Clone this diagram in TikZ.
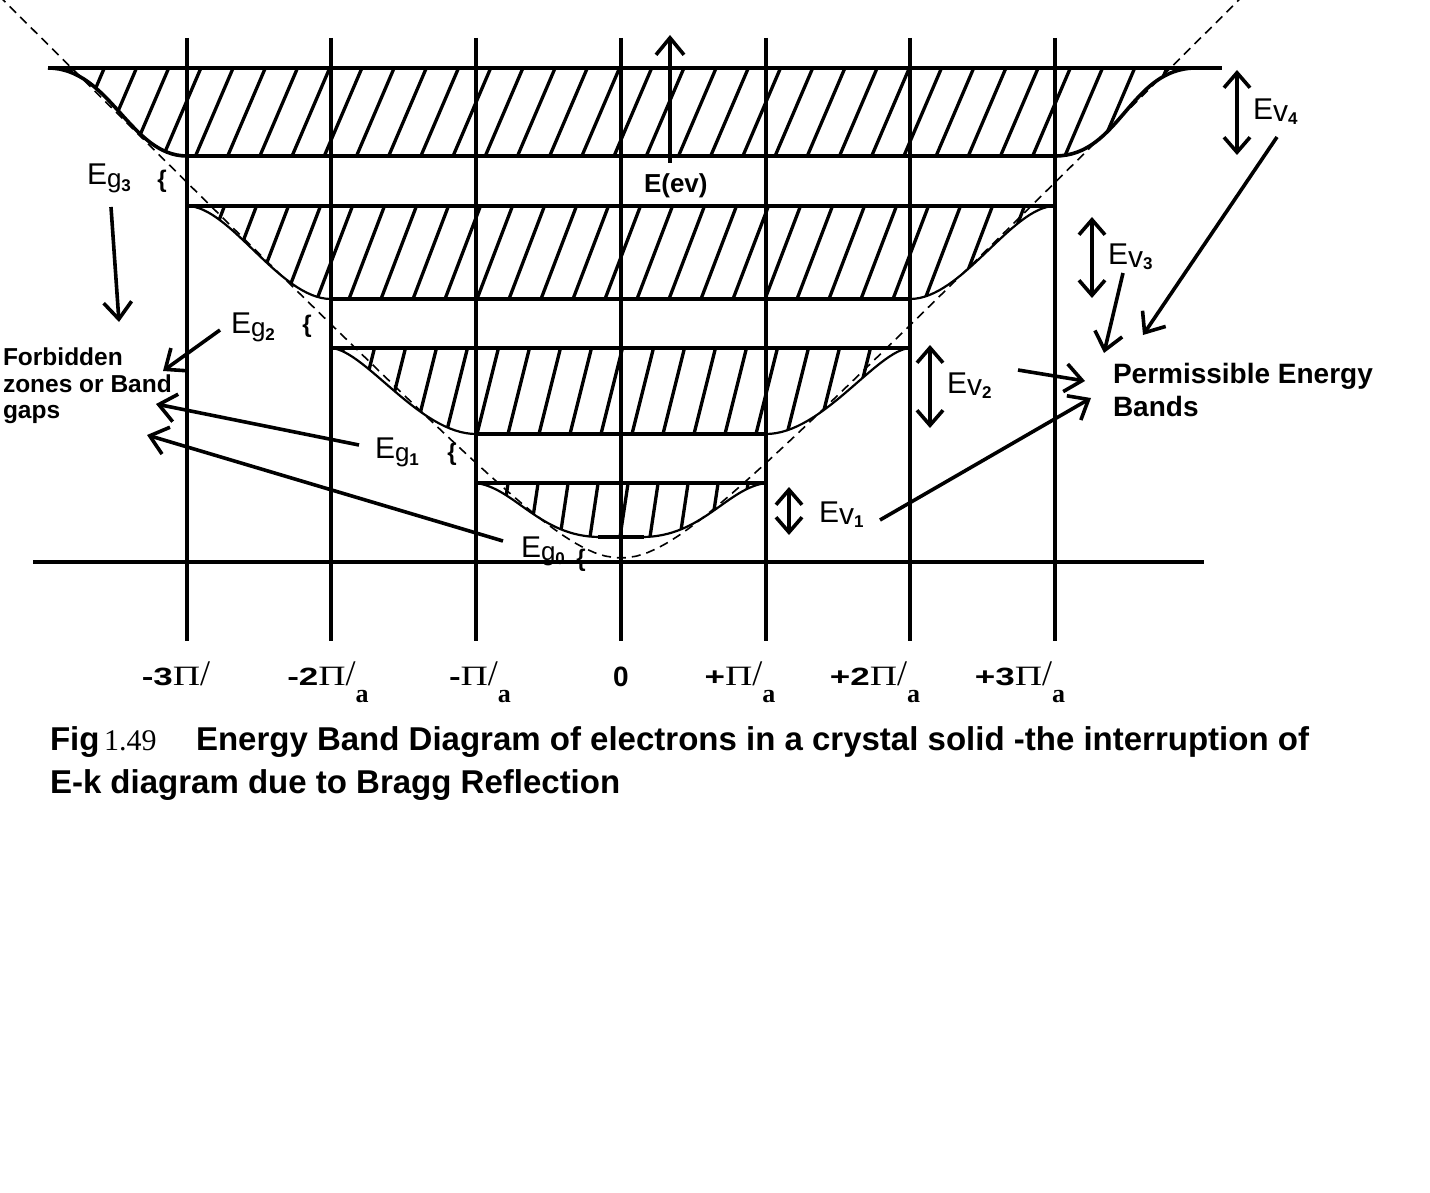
\documentclass[tikz,border=0pt]{standalone}
\usepackage{fontspec}
\setmainfont{Liberation Sans}
\newfontfamily\serf{Liberation Serif}
\usetikzlibrary{arrows.meta}
\newcommand\Egl[1]{E\raisebox{-3pt}{\fontsize{26}{26}\selectfont g\raisebox{-4pt}{\bfseries\fontsize{17}{17}\selectfont #1}}}
\newcommand\Evl[1]{E\raisebox{-2pt}{v\raisebox{-3pt}{\bfseries\fontsize{17}{17}\selectfont #1}}}
\newcommand\kpi{{\serf\fontsize{28}{28}\selectfont\scalebox{1.35}[1]{Π}}{\serf\fontsize{36}{36}\selectfont /}}
\newcommand\kl[2]{{\bfseries\fontsize{25}{25}\selectfont\scalebox{1.4}[1]{#1}}\kpi\raisebox{-17pt}{\serf\bfseries\fontsize{26}{26}\selectfont #2}}
\begin{document}
\begin{tikzpicture}[x=1pt,y=-1pt,
  every node/.style={inner sep=0pt, outer sep=0pt},
  thickline/.style={line width=3.6pt},
  hatchline/.style={line width=3.3pt},
  thincurve/.style={line width=2.2pt},
  guide/.style={line width=1.6pt, dash pattern=on 9pt off 6pt},
  arr/.style={-{Straight Barb[length=17pt,width=28pt]}, line width=3.6pt},
  darr/.style={{Straight Barb[length=15pt,width=26pt]}-{Straight Barb[length=15pt,width=26pt]}, line width=3.6pt},
  elbl/.style={font=\fontsize{30}{30}\selectfont, anchor=base west},
  brc/.style={font=\bfseries\fontsize{24}{24}\selectfont},
  side/.style={font=\bfseries\fontsize{24.5}{24.5}\selectfont, anchor=base west},
  perm/.style={font=\bfseries\fontsize{28}{28}\selectfont, anchor=base west},
  klbl/.style={anchor=base},
  captext/.style={font=\bfseries\fontsize{33}{33}\selectfont, anchor=base west}]
\useasboundingbox (0,0) rectangle (1430,1193);

% ---------- hatching ----------
\begin{scope}
\clip (48,68) -- (1196,68) .. controls (1130,68) and (1120,156) .. (1055,156) -- (187,156) .. controls (130,156) and (110,68) .. (48,68) -- cycle;
\foreach \i in {0,...,38} \draw[hatchline] ({2.2+\i*32.2-4.2},166) -- ++(46.2,-108);
\end{scope}
\begin{scope}
\clip (187,206) -- (1055,206) .. controls (1012,206) and (962,299) .. (910,299) -- (331,299) .. controls (280,299) and (230,206) .. (187,206) -- cycle;
\foreach \i in {0,...,29} \draw[hatchline] ({157+\i*32-3.8},309) -- ++(43.1,-113);
\end{scope}
\begin{scope}
\clip (331,348) -- (910,348) .. controls (877,350) and (822,434) .. (766,434) -- (476,434) .. controls (420,434) and (365,350) .. (331,348) -- cycle;
\foreach \i in {0,...,20} \draw[hatchline] ({322+\i*31-2.5},444) -- ++(26.5,-106);
\end{scope}
\begin{scope}
\clip (476,483) -- (766,483) .. controls (727,488) and (702,537) .. (642,537) -- (600,537) .. controls (540,537) and (515,488) .. (476,483) -- cycle;
\foreach \i in {0,...,11} \draw[hatchline] ({470+\i*30-1.5},547) -- ++(11.1,-74);
\end{scope}

% ---------- band outlines ----------
\draw[thickline] (48,68) -- (1222,68);
\draw[thickline] (48,68) .. controls (110,68) and (130,156) .. (187,156) -- (1055,156) .. controls (1120,156) and (1130,68) .. (1196,68);
\draw[thickline] (187,206) -- (1055,206);
\draw[thincurve] (187,206) .. controls (230,206) and (280,299) .. (331,299);
\draw[thincurve] (910,299) .. controls (962,299) and (1012,206) .. (1055,206);
\draw[thickline] (331,299) -- (910,299);
\draw[thickline] (331,348) -- (910,348);
\draw[thincurve] (331,348) .. controls (365,350) and (420,434) .. (476,434);
\draw[thincurve] (766,434) .. controls (822,434) and (877,350) .. (910,348);
\draw[thickline] (476,434) -- (766,434);
\draw[thickline] (476,483) -- (766,483);
\draw[thincurve] (476,483) .. controls (515,488) and (540,537) .. (600,537);
\draw[thincurve] (642,537) .. controls (702,537) and (727,488) .. (766,483);
\draw[thickline] (598,537) -- (644,537);

% ---------- grid ----------
\foreach \x in {187,331,476,621,766,910,1055} \draw[thickline] (\x,38) -- (\x,641);
\draw[thickline] (33,562) -- (1204,562);

% ---------- free electron curve ----------
\draw[guide] plot[domain=-6.22:6.22, samples=120] ({621+100*\x}, {621-100*sqrt(\x*\x+0.3969)});

% ---------- energy axis ----------
\coordinate (eaxb) at (670,163);
\coordinate (eaxt) at (670,35);
\draw[arr] (eaxb) -- (eaxt);
\node[font=\bfseries\fontsize{26}{26}\selectfont, anchor=base west] (eev) at (644,193) {E(ev)};

% ---------- gap labels ----------
\node[elbl] (eg3) at (87,185) {\Egl{3}};
\node[elbl] (eg2) at (231,333) {\Egl{2}};
\node[elbl] (eg1) at (375,458) {\Egl{1}};
\node[elbl] (eg0) at (521,557) {\Egl{0}};
\node[brc] (b3) at (162,181) {\{};
\node[brc] (b2) at (307,326) {\{};
\node[brc] (b1) at (452,454) {\{};
\node[brc] (b0) at (581,560) {\{};

\node[side] (fz1) at (3,365) {Forbidden};
\node[side] (fz2) at (3,392) {zones or Band};
\node[side] (fz3) at (3,418) {gaps};

\coordinate (a3s) at (111,207); \coordinate (a3e) at (119,322);
\coordinate (a2s) at (220,330); \coordinate (a2e) at (163,371);
\coordinate (a1s) at (359,445); \coordinate (a1e) at (156,404);
\coordinate (a0s) at (503,541); \coordinate (a0e) at (147,435);
\draw[arr] (a3s) -- (a3e);
\draw[arr] (a2s) -- (a2e);
\draw[arr] (a1s) -- (a1e);
\draw[arr] (a0s) -- (a0e);

% ---------- band widths ----------
\coordinate (v4t) at (1237,70); \coordinate (v4b) at (1237,155);
\coordinate (v3t) at (1092,217); \coordinate (v3b) at (1092,298);
\coordinate (v2t) at (930,345); \coordinate (v2b) at (930,428);
\coordinate (v1t) at (789,487); \coordinate (v1b) at (789,535);
\draw[darr] (v4t) -- (v4b);
\draw[darr] (v3t) -- (v3b);
\draw[darr] (v2t) -- (v2b);
\draw[darr] (v1t) -- (v1b);
\node[elbl] (ev4) at (1253,120) {\Evl{4}};
\node[elbl] (ev3) at (1108,265) {\Evl{3}};
\node[elbl] (ev2) at (947,393) {\Evl{2}};
\node[elbl] (ev1) at (819,522) {\Evl{1}};

\node[perm] (pe1) at (1113,383) {Permissible Energy};
\node[perm] (pe2) at (1113,416) {Bands};

\coordinate (p4s) at (1277,137); \coordinate (p4e) at (1143,335);
\coordinate (p3s) at (1123,273); \coordinate (p3e) at (1104,353);
\coordinate (p2s) at (1018,370); \coordinate (p2e) at (1085,381);
\coordinate (p1s) at (880,520); \coordinate (p1e) at (1091,398);
\draw[arr] (p4s) -- (p4e);
\draw[arr] (p3s) -- (p3e);
\draw[arr] (p2s) -- (p2e);
\draw[arr] (p1s) -- (p1e);

% ---------- k axis labels ----------
\node[klbl] (km3) at (176,685) {{\bfseries\fontsize{25}{25}\selectfont\scalebox{1.4}[1]{-3}}\kpi};
\node[klbl] (km2) at (328,685) {\kl{-2}{a}};
\node[klbl] (km1) at (480,685) {\kl{-}{a}};
\node[klbl, font=\bfseries\fontsize{28}{28}\selectfont] (k0) at (621,686) {0};
\node[klbl] (kp1) at (740,685) {\kl{+}{a}};
\node[klbl] (kp2) at (875,685) {\kl{+2}{a}};
\node[klbl] (kp3) at (1020,685) {\kl{+3}{a}};

% ---------- caption ----------
\node[captext] (fig) at (50,750) {Fig};
\node[anchor=base west, font=\serf\fontsize{30}{30}\selectfont] (fignum) at (104,750) {1.49};
\node[captext] (cap1) at (196,750) {Energy Band Diagram of electrons in a crystal solid -the interruption of};
\node[captext] (cap2) at (50,793) {E-k diagram due to Bragg Reflection};
\end{tikzpicture}
\end{document}
